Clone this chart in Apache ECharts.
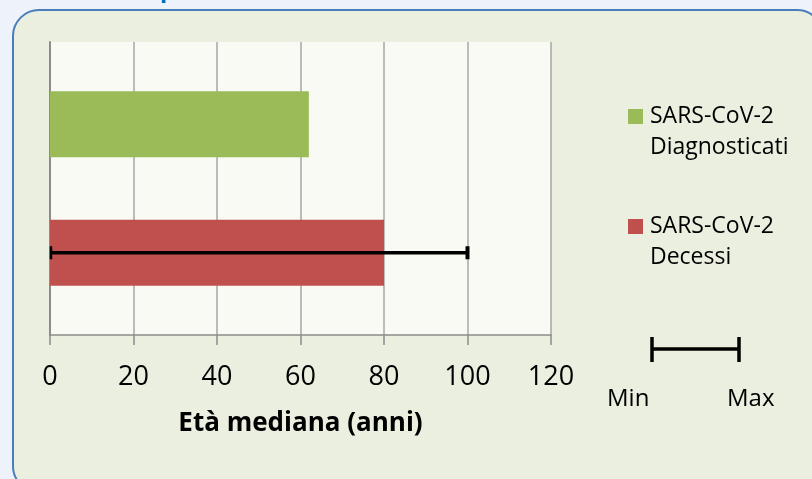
<!DOCTYPE html>
<html>
<head>
<meta charset="utf-8">
<script src="https://cdn.jsdelivr.net/npm/echarts@6/dist/echarts.min.js"></script>
<style>
html,body{margin:0;padding:0;background:#EEF3FB;}
#c{width:812px;height:479px;}
</style>
</head>
<body>
<div id="c"></div>
<script>
// ---- data ----
const categories = ['Diagnosticati', 'Decessi'];            // top to bottom
const seriesNames = ['SARS-CoV-2 Diagnosticati', 'SARS-CoV-2 Decessi'];
const diagnosticati = [62, null];
const decessi = [null, 80];
const errMin = [null, 0];
const errMax = [null, 100];
const xTicks = [0, 20, 40, 60, 80, 100, 120];
const axisTitle = 'Età mediana (anni)';
const legendMinMax = ['Min', 'Max'];

// ---- styling constants ----
const GREEN = '#9BBB59', RED = '#C0504D';
const FONT = '"Open Sans", "Liberation Sans", sans-serif';
const BAR_W = 66, BAR_GAP = -48; // px
const OFFSET = (BAR_W + BAR_GAP) / 2;

const chart = echarts.init(document.getElementById('c'), null, {renderer: 'canvas'});

const errData = [];
categories.forEach((c, i) => {
  if (errMin[i] != null) errData.push([i, errMin[i], errMax[i]]);
});

const option = {
  backgroundColor: '#EEF3FB',
  animation: false,
  graphic: [
    {type: 'rect', z: -10, shape: {x: 13, y: 10, width: 810, height: 482, r: 26},
     style: {fill: '#EBEFDF', stroke: '#4A7EBB', lineWidth: 2}},
    {type: 'text', z: -5, style: {text: 'p', x: 160, y: 2, fill: '#0070C0', font: 'bold 24px ' + FONT, verticalAlign: 'bottom'}},
    // legend
    {type: 'rect', shape: {x: 628, y: 109, width: 15, height: 15}, style: {fill: GREEN}},
    {type: 'text', style: {text: 'SARS-CoV-2\nDiagnosticati', x: 650, y: 101, lineHeight: 31, fill: '#000', font: '23px ' + FONT, verticalAlign: 'top'}},
    {type: 'rect', shape: {x: 628, y: 219, width: 15, height: 15}, style: {fill: RED}},
    {type: 'text', style: {text: 'SARS-CoV-2\nDecessi', x: 650, y: 211, lineHeight: 31, fill: '#000', font: '23px ' + FONT, verticalAlign: 'top'}},
    {type: 'line', shape: {x1: 652, y1: 349, x2: 739, y2: 349}, style: {stroke: '#000', lineWidth: 3.5}},
    {type: 'line', shape: {x1: 652, y1: 337, x2: 652, y2: 362}, style: {stroke: '#000', lineWidth: 3.5}},
    {type: 'line', shape: {x1: 739, y1: 337, x2: 739, y2: 362}, style: {stroke: '#000', lineWidth: 3.5}},
    {type: 'text', style: {text: legendMinMax[0], x: 607, y: 399, fill: '#000', font: '24px ' + FONT, verticalAlign: 'middle'}},
    {type: 'text', style: {text: legendMinMax[1], x: 727, y: 399, fill: '#000', font: '24px ' + FONT, verticalAlign: 'middle'}}
  ],
  grid: {left: 50, right: 261, top: 42, bottom: 144, show: true, backgroundColor: '#FAFAF5', borderWidth: 0, containLabel: false},
  xAxis: {
    type: 'value', min: xTicks[0], max: xTicks[xTicks.length - 1], interval: xTicks[1] - xTicks[0],
    axisLine: {show: true, lineStyle: {color: '#8C8C8C', width: 1.5}},
    axisTick: {show: true, length: 10, lineStyle: {color: '#8C8C8C', width: 1.5}},
    splitLine: {show: true, lineStyle: {color: '#A6A6A6', width: 1.5}},
    axisLabel: {color: '#000', fontSize: 27, fontFamily: FONT, margin: 29},
    name: axisTitle, nameLocation: 'middle', nameGap: 76,
    nameTextStyle: {color: '#000', fontSize: 26, fontWeight: 'bold', fontFamily: FONT}
  },
  yAxis: {
    type: 'category', data: categories, inverse: true,
    axisLine: {show: true, lineStyle: {color: '#8C8C8C', width: 2}},
    axisTick: {show: false},
    axisLabel: {show: false},
    splitLine: {show: false}
  },
  series: [
    {name: seriesNames[1], type: 'bar', data: decessi, barWidth: BAR_W, barGap: (BAR_GAP / BAR_W * 100) + '%', itemStyle: {color: RED}},
    {name: seriesNames[0], type: 'bar', data: diagnosticati, barWidth: BAR_W, itemStyle: {color: GREEN}},
    {
      type: 'custom', data: errData, encode: {x: [1, 2], y: 0}, z: 10,
      renderItem: function (params, api) {
        const cat = api.value(0);
        const a = api.coord([api.value(1), cat]);
        const b = api.coord([api.value(2), cat]);
        const y = a[1] + OFFSET * (cat === 0 ? 1 : -1);
        const st = {stroke: '#000', lineWidth: 3.5};
        return {type: 'group', children: [
          {type: 'line', shape: {x1: a[0], y1: y, x2: b[0], y2: y}, style: st},
          {type: 'line', shape: {x1: a[0] + 1, y1: y - 6.5, x2: a[0] + 1, y2: y + 6.5}, style: {stroke: '#000', lineWidth: 2.5}},
          {type: 'line', shape: {x1: b[0], y1: y - 6.5, x2: b[0], y2: y + 6.5}, style: {stroke: '#000', lineWidth: 4}}
        ]};
      }
    }
  ]
};
chart.setOption(option);
</script>
</body>
</html>
